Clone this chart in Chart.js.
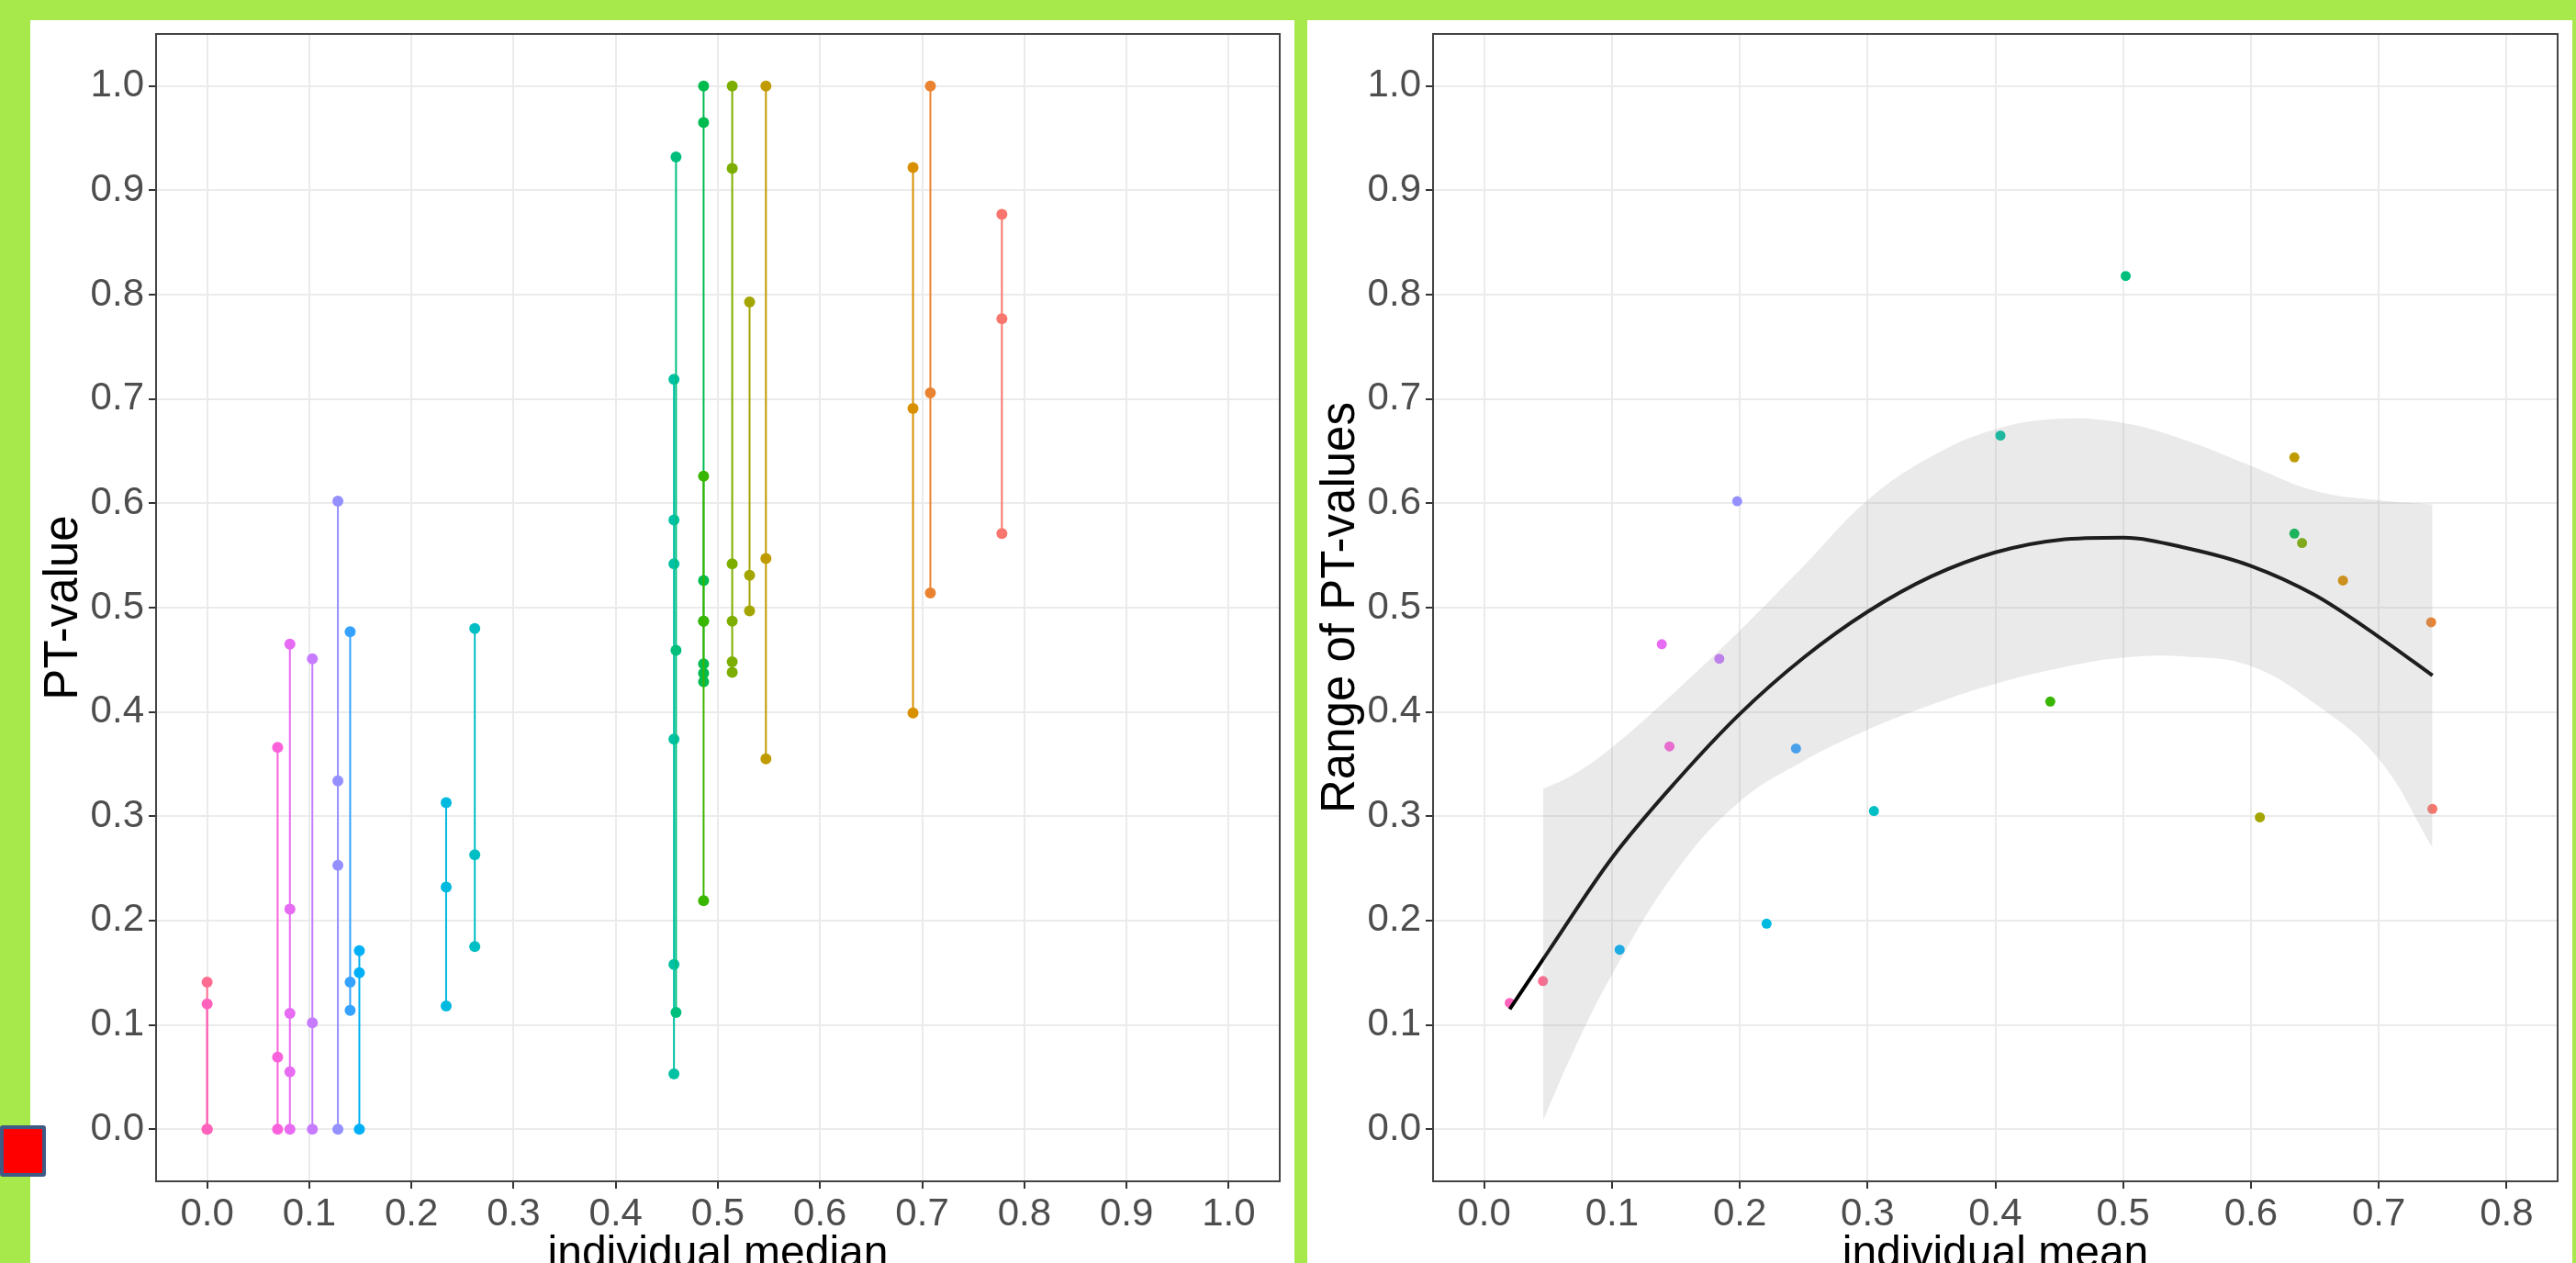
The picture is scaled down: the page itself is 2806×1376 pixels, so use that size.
<!DOCTYPE html>
<html>
<head>
<meta charset="utf-8">
<script src="https://cdn.jsdelivr.net/npm/chart.js@4.4.1/dist/chart.umd.min.js"></script>
<style>
    html, body { margin: 0; padding: 0; }
    body {
        width: 2806px; height: 1376px; overflow: hidden; position: relative;
        background: #a7e94b; font-family: "Liberation Sans", Arial, sans-serif;
    }
    .panel { position: absolute; top: 22px; height: 1354px; background: #fff; overflow: hidden; }
    #panel-left { left: 33px; width: 1377px; }
    #panel-right { left: 1424px; width: 1378px; }
    .panel canvas { position: absolute; left: 0; top: 0; }
    #marker {
        position: absolute; left: 0; top: 1226px; width: 50px; height: 56px; z-index: 5;
        background: #ff0000; border: 4px solid #3f5a85; border-radius: 3px; box-sizing: border-box;
    }
</style>
</head>
<body>
<div class="panel" id="panel-left"><canvas id="medianChart" width="1377" height="1400"></canvas></div>
<div class="panel" id="panel-right"><canvas id="meanChart" width="1378" height="1400"></canvas></div>
<div id="marker"></div>

<script>
// one colour per individual (ggplot hue palette, 20 levels)
const groupColors = ['#F8766D', '#EA8331', '#D89000', '#C09B00', '#A3A500', '#7CAE00', '#39B600', '#00BB4E', '#00BF7D', '#00C1A3',
    '#00BFC4', '#00BAE0', '#00B0F6', '#35A2FF', '#9590FF', '#C77CFF', '#E76BF3', '#FA62DB', '#FF62BC', '#FF6C91'];

// left panel: individual median vs. PT-values
const medians = [0.778, 0.708, 0.691, 0.547, 0.531, 0.514, 0.486, 0.486, 0.459, 0.457,
    0.262, 0.234, 0.149, 0.140, 0.128, 0.103, 0.081, 0.069, 0.0, 0.0];
const ptValues = [
    [0.571, 0.777, 0.877],
    [0.514, 0.706, 1.0],
    [0.399, 0.691, 0.922],
    [0.355, 0.547, 1.0],
    [0.497, 0.531, 0.793],
    [0.438, 0.448, 0.487, 0.542, 0.921, 1.0],
    [0.219, 0.487, 0.626],
    [0.429, 0.437, 0.446, 0.487, 0.526, 0.965, 1.0],
    [0.112, 0.459, 0.932],
    [0.053, 0.158, 0.374, 0.542, 0.584, 0.719],
    [0.175, 0.263, 0.480],
    [0.118, 0.232, 0.313],
    [0.0, 0.150, 0.171],
    [0.114, 0.141, 0.477],
    [0.0, 0.253, 0.334, 0.602],
    [0.0, 0.102, 0.451],
    [0.0, 0.055, 0.111, 0.211, 0.465],
    [0.0, 0.069, 0.366],
    [0.0, 0.12],
    [0.0, 0.141]
];

// right panel: individual mean vs. range of PT-values
const means = [0.742, 0.741, 0.672, 0.634, 0.607, 0.640, 0.443, 0.634, 0.502, 0.404,
    0.305, 0.221, 0.106, 0.244, 0.198, 0.184, 0.139, 0.145, 0.020, 0.046];
const ranges = [0.307, 0.486, 0.526, 0.644, 0.299, 0.562, 0.410, 0.571, 0.818, 0.665,
    0.305, 0.197, 0.172, 0.365, 0.602, 0.451, 0.465, 0.367, 0.121, 0.142];

// fitted curve and its confidence band
const fitX = [0.02, 0.05, 0.10, 0.15, 0.20, 0.25, 0.30, 0.35, 0.40, 0.45, 0.50, 0.55, 0.60, 0.65, 0.70, 0.742];
const fitY = [0.115, 0.170, 0.260, 0.333, 0.398, 0.452, 0.496, 0.530, 0.553, 0.565, 0.567, 0.557, 0.540, 0.512, 0.472, 0.435];
const bandX = [0.046, 0.07, 0.10, 0.15, 0.20, 0.25, 0.30, 0.35, 0.40, 0.45, 0.50, 0.55, 0.60, 0.65, 0.70, 0.742];
const bandLow = [0.008, 0.075, 0.148, 0.247, 0.314, 0.353, 0.383, 0.407, 0.427, 0.442, 0.452, 0.453, 0.444, 0.408, 0.355, 0.270];
const bandHigh = [0.326, 0.340, 0.366, 0.420, 0.478, 0.540, 0.603, 0.645, 0.671, 0.681, 0.677, 0.660, 0.636, 0.612, 0.603, 0.599];

// tick labels
const yTicks = [0.0, 0.1, 0.2, 0.3, 0.4, 0.5, 0.6, 0.7, 0.8, 0.9, 1.0];
const medianTicks = [0.0, 0.1, 0.2, 0.3, 0.4, 0.5, 0.6, 0.7, 0.8, 0.9, 1.0];
const meanTicks = [0.0, 0.1, 0.2, 0.3, 0.4, 0.5, 0.6, 0.7, 0.8];

Chart.defaults.font.family = '"Liberation Sans", Arial, sans-serif';

const panelBorder = {
    id: 'panelBorder',
    afterDatasetsDraw(chart) {
        const { ctx, chartArea: a } = chart;
        ctx.save();
        ctx.strokeStyle = '#444';
        ctx.lineWidth = 2;
        ctx.strokeRect(a.left, a.top, a.right - a.left, a.bottom - a.top);
        ctx.restore();
    }
};

function axisOptions(title, min, max, tickList, horizontal) {
    return {
        type: 'linear',
        min: min,
        max: max,
        afterBuildTicks: axis => { axis.ticks = tickList.map(v => ({ value: v })); },
        afterFit: scale => {
            // pin the panel box so both plots line up with the reference
            if (horizontal) {
                scale.height = 135;
                scale.paddingLeft = 0;
                scale.paddingRight = 0;
            } else {
                scale.width = 137;
                scale.paddingTop = 0;
                scale.paddingBottom = 0;
            }
        },
        grid: { color: '#EBEBEB', lineWidth: 2, drawTicks: true, tickLength: 8, tickColor: '#333', tickWidth: 2 },
        border: { display: false },
        ticks: {
            autoSkip: false,
            maxRotation: 0,
            padding: horizontal ? 3 : 5,
            color: '#4D4D4D',
            font: { size: 42 },
            callback: v => Number(v).toFixed(1)
        },
        title: {
            display: true,
            text: title,
            color: '#000',
            font: { size: horizontal ? 48 : 51 },
            padding: horizontal ? { top: 0, bottom: 26 } : { top: 6, bottom: 0 }
        }
    };
}

function baseOptions(xTitle, yTitle, xMin, xMax, xTicks) {
    return {
        responsive: false,
        animation: false,
        layout: { padding: { top: 15, right: 16, left: 0, bottom: 0 } },
        plugins: { legend: { display: false }, tooltip: { enabled: false } },
        scales: {
            x: axisOptions(xTitle, xMin, xMax, xTicks, true),
            y: axisOptions(yTitle, -0.05, 1.05, yTicks, false)
        }
    };
}

// left chart: one vertical segment per individual
const medianSets = medians.map((m, i) => ({
    data: ptValues[i].map(v => ({ x: m, y: v })),
    showLine: true,
    borderColor: groupColors[i],
    borderWidth: 2,
    pointRadius: 6,
    pointBorderWidth: 0,
    pointBackgroundColor: groupColors[i]
}));

new Chart(document.getElementById('medianChart'), {
    type: 'scatter',
    data: { datasets: medianSets },
    options: baseOptions('individual median', 'PT-value', -0.05, 1.05, medianTicks),
    plugins: [panelBorder]
});

// right chart: band, fitted curve, then points
const meanSets = [
    {
        data: bandX.map((x, i) => ({ x: x, y: bandLow[i] })),
        showLine: true, borderWidth: 0, pointRadius: 0, tension: 0.4,
        borderColor: 'rgba(0,0,0,0)', fill: false
    },
    {
        data: bandX.map((x, i) => ({ x: x, y: bandHigh[i] })),
        showLine: true, borderWidth: 0, pointRadius: 0, tension: 0.4,
        borderColor: 'rgba(0,0,0,0)', backgroundColor: 'rgba(150,150,150,0.2)', fill: '-1'
    },
    {
        data: fitX.map((x, i) => ({ x: x, y: fitY[i] })),
        showLine: true, borderWidth: 4, pointRadius: 0, cubicInterpolationMode: 'monotone',
        borderColor: '#000', fill: false
    },
    {
        data: means.map((x, i) => ({ x: x, y: ranges[i] })),
        pointRadius: 5.5,
        pointBorderWidth: 0,
        pointBackgroundColor: groupColors
    }
];

new Chart(document.getElementById('meanChart'), {
    type: 'scatter',
    data: { datasets: meanSets },
    options: baseOptions('individual mean', 'Range of PT-values', -0.04, 0.84, meanTicks),
    plugins: [panelBorder]
});
</script>
</body>
</html>
